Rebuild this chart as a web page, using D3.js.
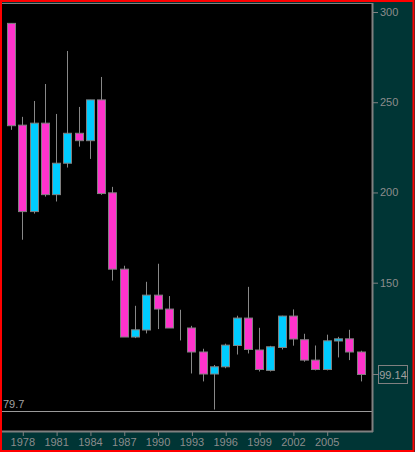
<!DOCTYPE html>
<html><head><meta charset="utf-8">
<script src="https://cdn.jsdelivr.net/npm/d3@7"></script>
<style>html,body{margin:0;padding:0;background:#003535;}svg{display:block;}</style>
</head><body>
<script>
const years = [1977,1978,1979,1980,1981,1982,1983,1984,1985,1986,1987,1988,1989,1990,1991,1992,1993,1994,1995,1996,1997,1998,1999,2000,2001,2002,2003,2004,2005,2006,2007,2008];
const opens  = [293.7,237.3,189.4,238.4,198.8,216.2,232.8,228.7,251.3,199.8,157.5,119.9,123.8,143.1,135.4,124.9,124.9,111.6,99.4,103.4,115.2,130.4,112.7,101.4,114.1,131.5,118.4,107.1,101.9,117.7,118.9,111.6];
const highs  = [293.7,241.9,250.7,260.1,243.5,278.4,247.4,251.3,264.0,203.1,159.4,137.2,150.5,160.5,142.6,135.0,126.1,113.4,104.4,116.2,131.7,147.7,125.0,115.0,131.7,135.2,121.7,115.2,121.2,120.0,123.9,112.3];
const lows   = [234.7,173.8,188.3,197.7,195.0,213.8,225.4,218.6,198.7,151.2,119.9,119.3,121.9,124.3,124.9,118.0,99.7,95.3,79.7,102.6,110.2,110.8,100.8,100.8,113.0,115.1,106.2,101.4,101.4,108.6,107.1,95.3];
const closes = [237.0,189.4,238.4,198.8,216.2,232.8,228.7,251.3,199.4,157.5,119.9,123.9,143.1,135.4,124.9,124.9,111.6,99.4,103.4,115.4,130.4,113.0,101.9,114.5,131.5,118.8,107.1,101.9,117.8,118.9,111.6,99.14];
const yTicks = [150,200,250,300];
const xTicks = [1978,1981,1984,1987,1990,1993,1996,1999,2002,2005];
const lastLabel = "99.14";
const minValue = 79.7;

const W = 415, H = 452;
const plotL = 2, plotR = 372, plotT = 3, plotB = 431;
const svg = d3.select("body").append("svg").attr("width", W).attr("height", H);

svg.append("rect").attr("x",0).attr("y",0).attr("width",W).attr("height",H).attr("fill","#003535");
svg.append("rect").attr("x",plotL).attr("y",plotT).attr("width",plotR-plotL).attr("height",plotB-plotT).attr("fill","#000");

const x = d3.scaleLinear().domain([1978, 2005]).range([22.3, 326.7]);
const y = d3.scaleLinear().domain([150, 300]).range([282.7, 12]);

const data = years.map((yr,i)=>({yr, o:opens[i], h:highs[i], l:lows[i], c:closes[i]}));

// min line
svg.append("line").attr("x1",plotL).attr("x2",plotR).attr("y1",Math.round(y(minValue))+1.5).attr("y2",Math.round(y(minValue))+1.5)
  .attr("stroke","#9a9a9a").attr("stroke-width",1);
svg.append("text").attr("x",3).attr("y",Math.round(y(minValue))-2).text(String(minValue))
  .attr("fill","#a0a0a0").attr("font-family","Liberation Sans, Arial, sans-serif").attr("font-size",11);

const g = svg.append("g");
const bw = 8;
g.selectAll("line.wick").data(data).join("line").attr("class","wick")
  .attr("x1",d=>Math.round(x(d.yr))+0.5).attr("x2",d=>Math.round(x(d.yr))+0.5)
  .attr("y1",d=>y(d.h)).attr("y2",d=>y(d.l)).attr("stroke","#888").attr("stroke-width",1);
g.selectAll("rect.body").data(data).join("rect").attr("class","body")
  .attr("x",d=>Math.round(x(d.yr))-bw/2+0.5).attr("width",bw)
  .attr("y",d=>y(Math.max(d.o,d.c))).attr("height",d=>Math.max(0,Math.abs(y(d.o)-y(d.c))))
  .attr("fill",d=>d.c>d.o?"#00ccff":(d.c<d.o?"#ff33cc":"none"))
  .attr("stroke","#808080").attr("stroke-width",1);

// frame lines
svg.append("line").attr("x1",plotL).attr("x2",plotR).attr("y1",plotT+0.5).attr("y2",plotT+0.5).attr("stroke","#808080");
svg.append("line").attr("x1",plotR+0.5).attr("x2",plotR+0.5).attr("y1",plotT).attr("y2",plotB+1).attr("stroke","#808080").attr("stroke-width",2);
svg.append("line").attr("x1",plotL).attr("x2",plotR+1).attr("y1",plotB+0.5).attr("y2",plotB+0.5).attr("stroke","#808080").attr("stroke-width",2);

// right axis
const ya = svg.append("g").attr("transform",`translate(${plotR+1},0)`)
  .call(d3.axisRight(y).tickValues(yTicks).tickSize(5).tickPadding(2).tickFormat(d3.format("d")));
ya.select(".domain").remove();
ya.selectAll("line").attr("stroke","#808080");
ya.selectAll("text").attr("fill","#8c8c8c").attr("font-family","Liberation Sans, Arial, sans-serif").attr("font-size",11);

// last value label
const ly = Math.round(y(closes[closes.length-1]));
svg.append("line").attr("x1",plotR+1).attr("x2",378).attr("y1",ly+0.5).attr("y2",ly+0.5).attr("stroke","#808080");
svg.append("rect").attr("x",378.5).attr("y",ly-8.5).attr("width",29).attr("height",18).attr("fill","#003535").attr("stroke","#808080");
svg.append("text").attr("x",393).attr("y",ly+4.5).attr("text-anchor","middle").text(lastLabel)
  .attr("fill","#a0a0a0").attr("font-family","Liberation Sans, Arial, sans-serif").attr("font-size",11);

// bottom axis
const xa = svg.append("g").attr("transform",`translate(0,${plotB+1})`)
  .call(d3.axisBottom(x).tickValues(xTicks).tickSize(4).tickPadding(2).tickFormat(d3.format("d")));
xa.select(".domain").remove();
xa.selectAll("line").attr("stroke","#808080").attr("transform","translate(0.5,0)");
xa.selectAll("text").attr("fill","#8c8c8c").attr("font-family","Liberation Sans, Arial, sans-serif").attr("font-size",11);

// red border
svg.append("rect").attr("x",1).attr("y",1).attr("width",W-2.5).attr("height",H-2).attr("fill","none").attr("stroke","#ff0000").attr("stroke-width",2);
</script>
</body></html>
